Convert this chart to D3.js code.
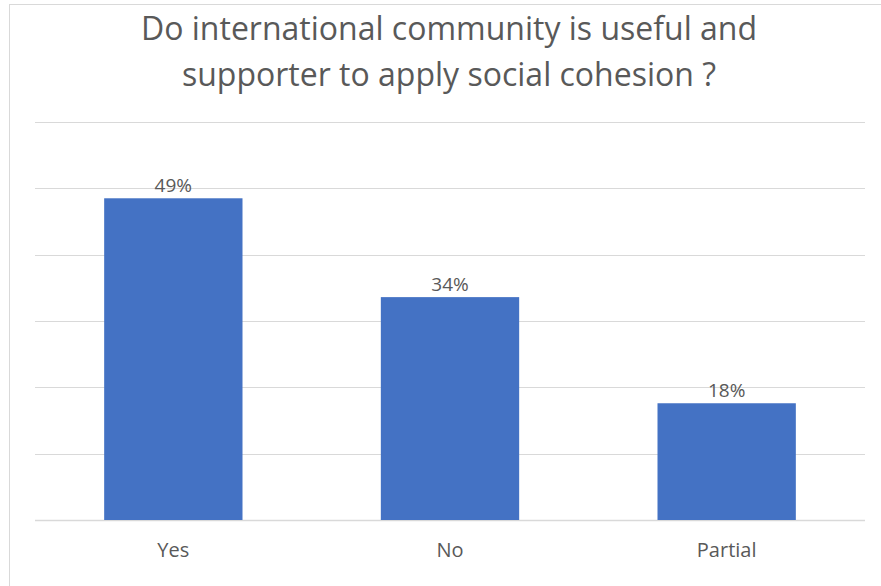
<!DOCTYPE html>
<html>
<head>
<meta charset="utf-8">
<script src="https://cdn.jsdelivr.net/npm/d3@7"></script>
<style>
  body { margin: 0; background: #fff; }
  text { font-family: "Open Sans", sans-serif; fill: #595959; }
</style>
</head>
<body>
<div class="container"></div>
<script>
const categories = ["Yes", "No", "Partial"];
const values = [48.5, 33.6, 17.6];
const valueLabels = ["49%", "34%", "18%"];
const gridTicks = [0, 10, 20, 30, 40, 50, 60];
const titleLines = ["Do international community is useful and", "supporter to apply social cohesion ?"];

const W = 881, H = 586;
const margin = { top: 122, right: 16, bottom: 66, left: 35 };
let w = W - margin.left - margin.right,
    h = H - margin.top - margin.bottom;

let svg = d3.select(".container").append("svg")
  .attr("width", W).attr("height", H);

// chart frame
svg.append("rect").attr("x", 9.5).attr("y", 4.5).attr("width", W).attr("height", H)
  .attr("fill", "none").attr("stroke", "#d9d9d9").attr("stroke-width", 1);

let g = svg.append("g").attr("transform", "translate(" + margin.left + "," + margin.top + ")");

let xScale = d3.scaleBand().domain(categories).range([0, w]).paddingInner(0.5).paddingOuter(0.25);
let yScale = d3.scaleLinear().domain([0, 60]).range([h, 0]);

// gridlines
g.selectAll(".grid").data(gridTicks).enter().append("line")
  .attr("class", "grid")
  .attr("x1", 0).attr("x2", w)
  .attr("y1", d => Math.round(yScale(d)) + 0.5).attr("y2", d => Math.round(yScale(d)) + 0.5)
  .attr("stroke", "#d9d9d9").attr("stroke-width", d => d === 0 ? 1.5 : 1.2);

// bars
g.selectAll(".bar").data(values).enter().append("rect")
  .attr("class", "bar")
  .attr("x", (d, i) => xScale(categories[i]))
  .attr("y", d => yScale(d))
  .attr("width", xScale.bandwidth())
  .attr("height", d => h - yScale(d))
  .attr("fill", "#4472c4");

// value labels
g.selectAll(".vlabel").data(values).enter().append("text")
  .attr("class", "vlabel")
  .attr("x", (d, i) => xScale(categories[i]) + xScale.bandwidth() / 2)
  .attr("y", d => yScale(d) - 6)
  .attr("text-anchor", "middle").style("font-size", "19px")
  .text((d, i) => valueLabels[i]);

// x axis
let xAxis = d3.axisBottom(xScale).tickSize(0).tickPadding(23);
let xg = g.append("g").attr("transform", "translate(0," + h + ")").call(xAxis);
xg.select(".domain").remove();
xg.selectAll("text").style("font-size", "20px").attr("fill", "#595959");

// title
svg.append("text").attr("x", 449).attr("y", 40).attr("text-anchor", "middle")
  .style("font-size", "32px")
  .selectAll("tspan").data(titleLines).enter().append("tspan")
  .attr("x", 449).attr("dy", (d, i) => i === 0 ? 0 : 46).text(d => d);
</script>
</body>
</html>
